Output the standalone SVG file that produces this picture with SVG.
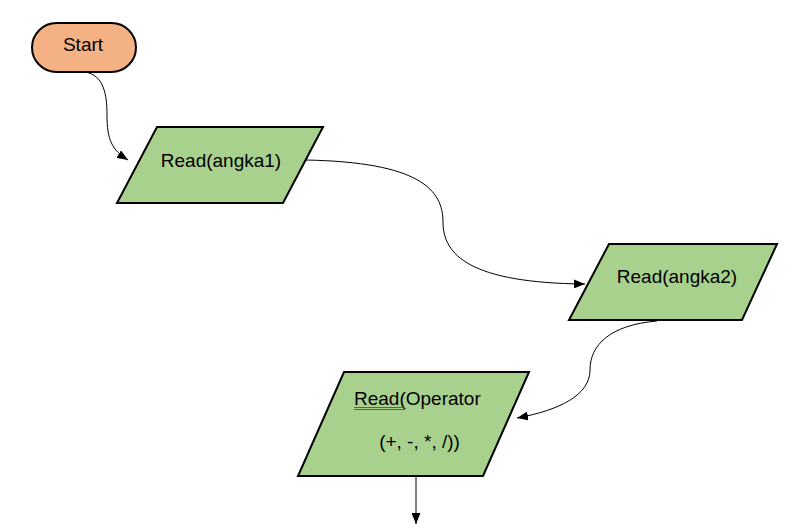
<svg xmlns="http://www.w3.org/2000/svg" width="804" height="524" viewBox="0 0 804 524">
  <style>
    .label { font-family: "Liberation Sans", Arial, sans-serif; font-size: 19px; fill: #000; }
    .terminal { fill: #F4B183; stroke: #000; stroke-width: 2; }
    .io { fill: #A9D18E; stroke: #000; stroke-width: 2; stroke-linejoin: miter; }
    .edge { fill: none; stroke: #000; stroke-width: 1; }
    .squiggle { stroke: #2F5FD0; stroke-width: 1; }
  </style>
  <defs>
    <marker id="arrow" markerUnits="userSpaceOnUse" markerWidth="11" markerHeight="9" refX="11" refY="4.5" orient="auto">
      <path d="M0,0 L11,4.5 L0,9 z" fill="#000"/>
    </marker>
  </defs>

  <rect width="804" height="524" fill="#fff"/>

  <!-- flow connectors -->
  <g id="connectors">
    <path class="edge" d="M 85 72 C 104 75, 107 95, 107 115 C 107 140, 112 150, 128 160" marker-end="url(#arrow)"/>
    <path class="edge" d="M 305 160 C 420 162, 443 190, 443 222 C 443 255, 470 283, 585 284" marker-end="url(#arrow)"/>
    <path class="edge" d="M 657 321 C 610 325, 590 345, 590 370 C 590 395, 560 410, 517 418" marker-end="url(#arrow)"/>
    <path class="edge" d="M 416 476 L 416 524" marker-end="url(#arrow)"/>
  </g>

  <g id="start">
    <rect class="terminal" x="32" y="23" width="104" height="49" rx="24.5" ry="24.5"/>
    <text class="label" x="83" y="51" text-anchor="middle">Start</text>
  </g>

  <g id="read-angka1">
    <polygon class="io" points="157,127 323,127 283,203 117,203"/>
    <text class="label" x="221" y="167" text-anchor="middle">Read(angka1)</text>
  </g>

  <g id="read-angka2">
    <polygon class="io" points="609,244 777,244 742,320 569,320"/>
    <text class="label" x="677" y="283" text-anchor="middle">Read(angka2)</text>
  </g>

  <g id="read-operator">
    <polygon class="io" points="344,372 529,372 483,476 298,476"/>
    <text class="label" x="354" y="405">Read(Operator</text>
    <line class="squiggle" x1="354" y1="407.5" x2="405" y2="407.5"/>
    <line class="squiggle" x1="354" y1="409.5" x2="405" y2="409.5"/>
    <text class="label" x="419.5" y="448" text-anchor="middle">(+, -, *, /))</text>
  </g>
</svg>
